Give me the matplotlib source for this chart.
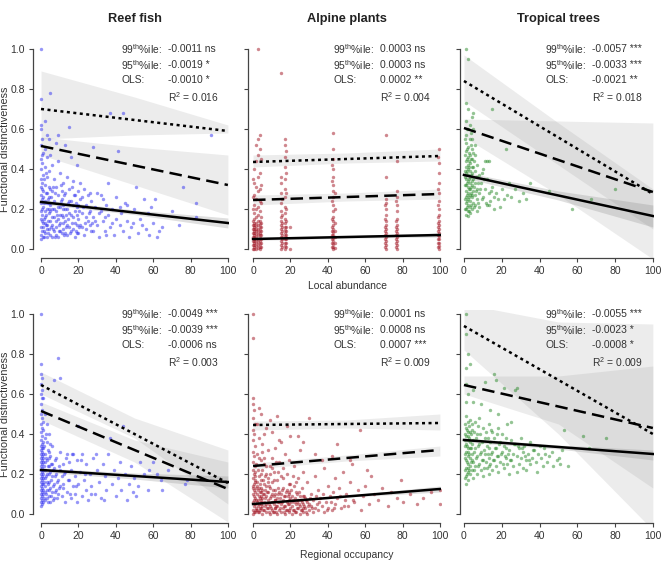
import numpy as np
import matplotlib.pyplot as plt

plt.rcParams['font.family'] = ['Liberation Sans', 'DejaVu Sans']
plt.rcParams['mathtext.fontset'] = 'custom'
plt.rcParams['mathtext.rm'] = 'Liberation Sans'
plt.rcParams['mathtext.it'] = 'Liberation Sans:italic'

# ---- data ----
titles = ['Reef fish', 'Alpine plants', 'Tropical trees']
stat_names = [r'99$^{\rm th}$%ile:', r'95$^{\rm th}$%ile:', 'OLS:']

# slopes / significance text, per panel (top row = local abundance, bottom = regional occupancy)
stats_reef_local = ['-0.0011 ns', '-0.0019 *', '-0.0010 *', '0.016']
stats_alp_local = ['0.0003 ns', '0.0003 ns', '0.0002 **', '0.004']
stats_trop_local = ['-0.0057 ***', '-0.0033 ***', '-0.0021 **', '0.018']
stats_reef_reg = ['-0.0049 ***', '-0.0039 ***', '-0.0006 ns', '0.003']
stats_alp_reg = ['0.0001 ns', '0.0008 ns', '0.0007 ***', '0.009']
stats_trop_reg = ['-0.0055 ***', '-0.0023 *', '-0.0008 *', '0.009']

line_x = [0, 100]
band_x = [0, 50, 100]

# fitted lines (value at x=0 and x=100) and confidence bands (lower/upper at 0, 50, 100)
reef_local_ols = [0.235, 0.13]
reef_local_ols_lo = [0.225, 0.172, 0.105]
reef_local_ols_hi = [0.247, 0.195, 0.155]
reef_local_q95 = [0.515, 0.32]
reef_local_q95_lo = [0.47, 0.32, 0.17]
reef_local_q95_hi = [0.56, 0.51, 0.47]
reef_local_q99 = [0.70, 0.59]
reef_local_q99_lo = [0.55, 0.57, 0.58]
reef_local_q99_hi = [0.89, 0.76, 0.62]

alp_local_ols = [0.05, 0.07]
alp_local_ols_lo = [0.043, 0.054, 0.06]
alp_local_ols_hi = [0.057, 0.066, 0.08]
alp_local_q95 = [0.245, 0.275]
alp_local_q95_lo = [0.22, 0.24, 0.25]
alp_local_q95_hi = [0.27, 0.28, 0.30]
alp_local_q99 = [0.435, 0.465]
alp_local_q99_lo = [0.41, 0.43, 0.44]
alp_local_q99_hi = [0.47, 0.48, 0.50]

trop_local_ols = [0.37, 0.165]
trop_local_ols_lo = [0.355, 0.245, 0.11]
trop_local_ols_hi = [0.385, 0.29, 0.22]
trop_local_q95 = [0.605, 0.285]
trop_local_q95_lo = [0.56, 0.27, -0.05]
trop_local_q95_hi = [0.65, 0.64, 0.63]
trop_local_q99 = [0.84, 0.275]
trop_local_q99_lo = [0.74, 0.42, 0.10]
trop_local_q99_hi = [0.97, 0.63, 0.30]

reef_reg_ols = [0.22, 0.16]
reef_reg_ols_lo = [0.21, 0.175, 0.13]
reef_reg_ols_hi = [0.23, 0.205, 0.19]
reef_reg_q95 = [0.515, 0.125]
reef_reg_q95_lo = [0.47, 0.26, -0.04]
reef_reg_q95_hi = [0.56, 0.37, 0.26]
reef_reg_q99 = [0.645, 0.155]
reef_reg_q99_lo = [0.60, 0.38, 0.05]
reef_reg_q99_hi = [0.71, 0.48, 0.32]

alp_reg_ols = [0.05, 0.125]
alp_reg_ols_lo = [0.045, 0.084, 0.11]
alp_reg_ols_hi = [0.056, 0.093, 0.14]
alp_reg_q95 = [0.24, 0.32]
alp_reg_q95_lo = [0.225, 0.265, 0.29]
alp_reg_q95_hi = [0.255, 0.295, 0.34]
alp_reg_q99 = [0.445, 0.455]
alp_reg_q99_lo = [0.42, 0.43, 0.42]
alp_reg_q99_hi = [0.465, 0.47, 0.50]

trop_reg_ols = [0.37, 0.30]
trop_reg_ols_lo = [0.36, 0.325, 0.27]
trop_reg_ols_hi = [0.38, 0.345, 0.32]
trop_reg_q95 = [0.645, 0.43]
trop_reg_q95_lo = [0.60, 0.45, 0.13]
trop_reg_q95_hi = [0.69, 0.69, 0.74]
trop_reg_q99 = [0.94, 0.40]
trop_reg_q99_lo = [0.82, 0.40, -0.08]
trop_reg_q99_hi = [1.05, 0.96, 0.95]

# species points (x, y)
reef_local_pts = [
    (0, 1.0), (0, 0.75), (0, 0.62), (0, 0.6), (0.5, 0.55), (0, 0.52), (1, 0.48), (0, 0.45), (0.5, 0.43),
    (0, 0.4), (1, 0.37), (0, 0.35), (0.5, 0.33), (0, 0.31), (1, 0.29), (0, 0.27), (0.5, 0.25), (0, 0.23),
    (1, 0.21), (0, 0.19), (0.5, 0.17), (0, 0.15), (1, 0.13), (0, 0.11), (0.5, 0.09), (0, 0.07), (1, 0.06),
    (0, 0.05), (2, 0.64), (3, 0.57), (2, 0.5), (3, 0.46), (2, 0.41), (3, 0.36), (2, 0.32), (3, 0.28),
    (2, 0.24), (3, 0.2), (2, 0.16), (3, 0.12), (2, 0.08), (3, 0.06), (5, 0.78), (4, 0.55), (5, 0.47),
    (4, 0.39), (5, 0.3), (4, 0.26), (5, 0.22), (4, 0.18), (5, 0.14), (4, 0.1), (5, 0.07), (6, 0.42),
    (7, 0.35), (6, 0.29), (7, 0.24), (6, 0.2), (7, 0.16), (6, 0.12), (7, 0.09), (6, 0.06), (8, 0.53),
    (8, 0.31), (8, 0.19), (8, 0.11), (9, 0.57), (9, 0.44), (9, 0.27), (9, 0.15), (9, 0.06), (10, 0.38),
    (11, 0.25), (10, 0.21), (11, 0.17), (10, 0.13), (11, 0.08), (12, 0.33), (12, 0.22), (12, 0.1),
    (13, 0.52), (13, 0.28), (13, 0.14), (14, 0.36), (14, 0.2), (14, 0.07), (15, 0.61), (15, 0.3),
    (15, 0.18), (15, 0.11), (16, 0.46), (16, 0.24), (16, 0.09), (17, 0.34), (17, 0.16), (18, 0.27),
    (18, 0.13), (18, 0.06), (19, 0.42), (19, 0.21), (20, 0.29), (20, 0.15), (20, 0.08), (21, 0.25),
    (22, 0.18), (22, 0.11), (23, 0.3), (23, 0.07), (24, 0.22), (25, 0.14), (25, 0.27), (26, 0.19),
    (27, 0.09), (27, 0.24), (28, 0.51), (28, 0.16), (29, 0.21), (30, 0.12), (30, 0.28), (31, 0.06),
    (32, 0.19), (33, 0.25), (33, 0.14), (34, 0.09), (35, 0.22), (36, 0.33), (36, 0.17), (37, 0.68),
    (37, 0.11), (38, 0.2), (39, 0.07), (40, 0.26), (40, 0.15), (41, 0.49), (42, 0.12), (43, 0.18),
    (44, 0.68), (44, 0.09), (45, 0.23), (46, 0.14), (47, 0.06), (48, 0.11), (50, 0.2), (51, 0.31),
    (52, 0.08), (53, 0.15), (55, 0.25), (56, 0.1), (57, 0.18), (58, 0.07), (60, 0.13), (61, 0.25),
    (62, 0.06), (63, 0.09), (65, 0.11), (70, 0.19), (74, 0.12), (76, 0.31), (83, 0.23), (83, 0.16),
    (91, 0.57), (1, 0.26), (2, 0.19), (3, 0.23), (1, 0.11), (2, 0.13), (3, 0.1), (4, 0.31), (4, 0.23),
    (5, 0.19), (6, 0.16), (7, 0.2), (8, 0.14), (8, 0.07), (9, 0.21), (10, 0.17), (10, 0.09), (11, 0.29),
    (12, 0.16), (13, 0.08), (13, 0.2), (14, 0.12), (15, 0.24), (16, 0.17), (17, 0.1), (17, 0.22),
    (18, 0.19), (19, 0.12), (19, 0.08), (20, 0.22), (21, 0.12), (21, 0.33), (22, 0.26), (24, 0.1),
    (24, 0.16), (26, 0.12), (26, 0.28), (28, 0.09), (29, 0.14), (31, 0.18), (32, 0.27), (34, 0.16),
    (35, 0.07), (38, 0.13), (42, 0.21), (46, 0.22), (49, 0.13), (54, 0.12), (59, 0.21),
    (0.5, 0.2), (1.5, 0.23), (2.5, 0.17), (3.5, 0.25), (0.5, 0.3), (1.5, 0.15), (2.5, 0.28), (3.5, 0.14),
    (4.5, 0.2), (5.5, 0.26), (6.5, 0.1), (7.5, 0.28), (8.5, 0.17), (9.5, 0.09), (10.5, 0.24), (11.5, 0.13),
    (12.5, 0.27), (13.5, 0.17), (14.5, 0.23), (15.5, 0.08), (16.5, 0.13), (17.5, 0.27), (18.5, 0.09),
    (19.5, 0.17), (20.5, 0.11), (22.5, 0.21), (23.5, 0.13), (25.5, 0.18), (27.5, 0.13), (1.5, 0.35),
    (2.5, 0.38), (0.5, 0.47), (1.5, 0.06), (3.5, 0.08), (5.5, 0.11), (7.5, 0.06), (9.5, 0.12), (11.5, 0.2),
    (13.5, 0.11), (6.5, 0.31), (10.5, 0.32), (12.5, 0.07), (14.5, 0.15), (16.5, 0.31), (18.5, 0.23),
    (20.5, 0.19), (0.5, 0.14), (1.5, 0.09), (2.5, 0.12),
]

# alpine local abundance takes a few discrete values: (x, list of y)
alp_local_cols = [
    (0.0, [0.0, 0.02, 0.04, 0.06, 0.08, 0.1, 0.12, 0.14, 0.2, 0.26, 0.35]),
    (0.5, [0.0, 0.01, 0.02, 0.03, 0.04, 0.05, 0.06, 0.07, 0.08, 0.09, 0.1, 0.11, 0.12, 0.13, 0.15, 0.18, 0.22, 0.27, 0.33, 0.4]),
    (1.5, [0.0, 0.015, 0.03, 0.045, 0.06, 0.075, 0.09, 0.1, 0.115, 0.13, 0.16, 0.2, 0.25, 0.31, 0.44, 0.52]),
    (2.5, [0.005, 0.02, 0.035, 0.05, 0.07, 0.085, 0.1, 0.12, 0.14, 0.17, 0.21, 0.29, 0.36, 0.47, 0.55, 1.0]),
    (3.5, [0.0, 0.01, 0.025, 0.04, 0.055, 0.07, 0.08, 0.095, 0.11, 0.125, 0.14, 0.19, 0.24, 0.3, 0.38, 0.5, 0.57]),
    (4.2, [0.01, 0.03, 0.05, 0.07, 0.09, 0.11, 0.13, 0.16, 0.23, 0.32, 0.45]),
    (15, [0.0, 0.02, 0.04, 0.06, 0.08, 0.1, 0.12, 0.14, 0.16, 0.19, 0.23, 0.28, 0.33, 0.36, 0.88]),
    (15.7, [0.01, 0.03, 0.05, 0.07, 0.09, 0.11, 0.13, 0.17, 0.25]),
    (17, [0.0, 0.015, 0.03, 0.05, 0.065, 0.08, 0.095, 0.11, 0.13, 0.15, 0.18, 0.21, 0.26, 0.3, 0.35, 0.41, 0.46, 0.52, 0.55]),
    (17.7, [0.01, 0.03, 0.05, 0.07, 0.09, 0.11, 0.14, 0.2, 0.28, 0.38, 0.49]),
    (20, [0.0, 0.11]),
    (42.4, [0.01, 0.03, 0.05, 0.07, 0.09, 0.11, 0.15, 0.24, 0.34, 0.42]),
    (43, [0.0, 0.01, 0.025, 0.04, 0.055, 0.07, 0.085, 0.1, 0.12, 0.14, 0.16, 0.19, 0.22, 0.26, 0.29, 0.32, 0.36, 0.4, 0.45, 0.5, 0.58]),
    (43.6, [0.005, 0.03, 0.06, 0.09, 0.13, 0.2, 0.28]),
    (70.4, [0.01, 0.03, 0.05, 0.07, 0.09, 0.11, 0.15, 0.22]),
    (71, [0.0, 0.02, 0.04, 0.06, 0.08, 0.1, 0.12, 0.14, 0.17, 0.2, 0.23, 0.25, 0.36, 0.57]),
    (76.4, [0.01, 0.03, 0.05, 0.07, 0.09, 0.11, 0.14, 0.24]),
    (77, [0.0, 0.02, 0.04, 0.06, 0.08, 0.1, 0.12, 0.15, 0.19, 0.22, 0.26, 0.29, 0.44]),
    (99.0, [0.01, 0.03, 0.05, 0.07, 0.09, 0.11, 0.13, 0.16, 0.22, 0.3, 0.46]),
    (99.6, [0.0, 0.015, 0.03, 0.05, 0.065, 0.08, 0.1, 0.12, 0.14, 0.17, 0.2, 0.24, 0.28, 0.33, 0.38, 0.43, 0.5]),
]

trop_local_pts = [
    (1, 1.0), (2, 0.95), (1, 0.73), (2, 0.7), (1, 0.64), (2, 0.6), (1, 0.57), (3, 0.55), (1, 0.53),
    (2, 0.51), (1, 0.49), (3, 0.47), (2, 0.46), (1, 0.44), (3, 0.43), (2, 0.42), (1, 0.41), (2, 0.4),
    (3, 0.39), (1, 0.38), (2, 0.37), (3, 0.36), (1, 0.35), (2, 0.34), (3, 0.33), (1, 0.32), (2, 0.31),
    (3, 0.3), (1, 0.29), (2, 0.28), (3, 0.27), (1, 0.26), (2, 0.25), (3, 0.24), (1, 0.23), (2, 0.22),
    (3, 0.21), (1, 0.2), (2, 0.19), (3, 0.18), (1, 0.17), (2, 0.165), (4, 0.5), (5, 0.6), (4, 0.45),
    (5, 0.41), (4, 0.38), (5, 0.35), (4, 0.32), (5, 0.29), (4, 0.26), (5, 0.23), (4, 0.2), (6, 0.47),
    (6, 0.39), (6, 0.33), (6, 0.27), (6, 0.22), (7, 0.42), (7, 0.36), (7, 0.3), (7, 0.25), (7, 0.19),
    (8, 0.37), (8, 0.28), (8, 0.21), (4, 0.55), (5, 0.48), (6, 0.52), (3, 0.62), (4, 0.66), (5, 0.68),
    (9, 0.33), (10, 0.4), (10, 0.26), (11, 0.44), (11, 0.3), (12, 0.22), (12, 0.35), (13, 0.28),
    (13, 0.44), (14, 0.24), (15, 0.7), (15, 0.31), (16, 0.26), (16, 0.2), (17, 0.28), (18, 0.25),
    (19, 0.21), (20, 0.3), (21, 0.25), (22, 0.5), (23, 0.27), (24, 0.33), (25, 0.26), (27, 0.3),
    (29, 0.24), (31, 0.28), (33, 0.25), (35, 0.33), (45, 0.29), (57, 0.2), (67, 0.25), (80, 0.3),
    (96, 0.3), (12, 0.44), (13, 0.22), (1.5, 0.45), (2.5, 0.35), (1.5, 0.27), (2.5, 0.41), (1.5, 0.21),
    (2.5, 0.3), (0.5, 0.39), (0.5, 0.32), (0.5, 0.25), (3.5, 0.37), (3.5, 0.28), (3.5, 0.45),
    (0.5, 0.47), (1.5, 0.5), (2.5, 0.48), (3.5, 0.52), (0.5, 0.2), (1.5, 0.24), (2.5, 0.19), (3.5, 0.22),
    (4.5, 0.34), (4.5, 0.41), (4.5, 0.27), (5.5, 0.31), (5.5, 0.44), (5.5, 0.21), (6.5, 0.36), (6.5, 0.29),
    (7.5, 0.33), (7.5, 0.23), (8.5, 0.3), (9.5, 0.25), (10.5, 0.35), (11.5, 0.23), (9.5, 0.38), (14.5, 0.29),
    (0.5, 0.36), (1.5, 0.33), (2.5, 0.26), (3.5, 0.31), (1.5, 0.39), (2.5, 0.44), (0.5, 0.55), (1.5, 0.6),
    (3.5, 0.58),
]

reef_reg_pts = [
    (0, 1.0), (0, 0.75), (0, 0.7), (0.4, 0.68), (0, 0.65), (0.4, 0.62), (0, 0.6), (0.4, 0.58), (0, 0.55),
    (0.4, 0.52), (0, 0.5), (0.4, 0.48), (0, 0.45), (0.4, 0.43), (0, 0.41), (0.4, 0.39), (0, 0.37),
    (0.4, 0.35), (0, 0.34), (0.4, 0.33), (0, 0.32), (0.4, 0.31), (0, 0.3), (0.4, 0.29), (0, 0.28),
    (0.4, 0.27), (0, 0.26), (0.4, 0.25), (0, 0.24), (0.4, 0.23), (0, 0.22), (0.4, 0.21), (0, 0.2),
    (0.4, 0.19), (0, 0.18), (0.4, 0.17), (0, 0.16), (0.4, 0.15), (0, 0.14), (0.4, 0.13), (0, 0.12),
    (0.4, 0.11), (0, 0.1), (0.4, 0.09), (0, 0.08), (0.4, 0.07), (0, 0.06), (0.4, 0.05), (0, 0.04),
    (1, 0.1), (1, 0.18), (1, 0.26), (1, 0.33), (1, 0.42), (1, 0.58), (2, 0.07), (2, 0.14), (2, 0.22),
    (2, 0.3), (2, 0.38), (2, 0.5), (3, 0.12), (3, 0.2), (3, 0.27), (3, 0.36), (3, 0.45), (4, 0.09),
    (4, 0.16), (4, 0.24), (4, 0.31), (4, 0.4), (5, 0.06), (5, 0.13), (5, 0.21), (5, 0.29), (5, 0.35),
    (6, 0.11), (6, 0.19), (6, 0.25), (6, 0.34), (7, 0.08), (7, 0.15), (7, 0.23), (7, 0.67), (8, 0.12),
    (8, 0.2), (8, 0.28), (9, 0.78), (9, 0.1), (9, 0.17), (10, 0.68), (10, 0.14), (10, 0.22), (10, 0.31),
    (11, 0.09), (11, 0.19), (12, 0.25), (12, 0.13), (13, 0.06), (13, 0.21), (14, 0.3), (14, 0.11),
    (15, 0.17), (15, 0.26), (16, 0.08), (16, 0.22), (17, 0.14), (17, 0.3), (18, 0.1), (18, 0.19),
    (19, 0.27), (19, 0.06), (20, 0.15), (20, 0.44), (21, 0.21), (22, 0.09), (22, 0.3), (23, 0.17),
    (24, 0.12), (24, 0.25), (25, 0.07), (26, 0.2), (27, 0.14), (28, 0.28), (29, 0.1), (30, 0.22),
    (31, 0.16), (32, 0.08), (33, 0.25), (34, 0.19), (35, 0.12), (36, 0.3), (37, 0.38), (38, 0.15),
    (39, 0.22), (40, 0.09), (41, 0.18), (42, 0.26), (43, 0.12), (44, 0.44), (45, 0.2), (46, 0.07),
    (47, 0.15), (48, 0.24), (49, 0.11), (50, 0.18), (51, 0.09), (52, 0.14), (53, 0.26), (55, 0.2),
    (57, 0.12), (58, 0.22), (60, 0.26), (62, 0.2), (64, 0.17), (65, 0.12), (68, 0.22), (77, 0.15),
    (78, 0.17), (1, 0.15), (2, 0.26), (3, 0.08), (1, 0.22), (2, 0.18), (1, 0.3), (3, 0.16), (2, 0.11),
    (0.8, 0.06), (0.8, 0.12), (0.8, 0.2), (0.8, 0.28), (0.8, 0.36), (0.8, 0.46), (1.5, 0.08), (1.5, 0.16),
    (1.5, 0.24), (1.5, 0.34), (2.5, 0.1), (2.5, 0.19), (2.5, 0.28), (2.5, 0.4), (3.5, 0.06), (3.5, 0.15),
    (3.5, 0.24), (3.5, 0.32), (4.5, 0.12), (4.5, 0.2), (4.5, 0.28), (5.5, 0.09), (5.5, 0.17), (5.5, 0.25),
    (6.5, 0.07), (6.5, 0.14), (6.5, 0.22), (7.5, 0.11), (7.5, 0.19), (7.5, 0.27), (8.5, 0.08), (8.5, 0.16),
    (9.5, 0.13), (9.5, 0.24), (11.5, 0.15), (12.5, 0.2), (13.5, 0.28), (14.5, 0.17), (15.5, 0.1),
    (16.5, 0.3), (18.5, 0.14), (21.5, 0.27), (23.5, 0.2), (26.5, 0.1), (29.5, 0.3), (33.5, 0.07),
]

alp_reg_pts = [
    (0, 1.0), (0, 0.88), (0, 0.58), (0, 0.55), (0.5, 0.52), (0, 0.48), (1, 0.45), (0, 0.42), (0.5, 0.4),
    (0, 0.37), (1, 0.34), (0, 0.31), (0.5, 0.29), (0, 0.26), (1, 0.24), (0, 0.22), (0.5, 0.2), (0, 0.18),
    (1, 0.16), (0, 0.14), (0.5, 0.12), (0, 0.1), (1, 0.08), (0, 0.06), (0.5, 0.04), (0, 0.02), (1, 0.01),
    (0, 0.0), (1, 0.11), (1, 0.05), (0.5, 0.07), (0.5, 0.15), (1, 0.21), (2, 0.02), (2, 0.06), (2, 0.1),
    (2, 0.14), (2, 0.3), (2, 0.45), (3, 0.01), (3, 0.05), (3, 0.09), (3, 0.13), (3, 0.19), (3, 0.38),
    (4, 0.03), (4, 0.07), (4, 0.11), (4, 0.17), (4, 0.27), (4, 0.5), (5, 0.0), (5, 0.04), (5, 0.08),
    (5, 0.12), (5, 0.22), (5, 0.35), (6, 0.02), (6, 0.06), (6, 0.1), (6, 0.15), (6, 0.25), (7, 0.01),
    (7, 0.05), (7, 0.09), (7, 0.14), (7, 0.2), (7, 0.43), (8, 0.03), (8, 0.07), (8, 0.11), (8, 0.18),
    (8, 0.32), (9, 0.0), (9, 0.04), (9, 0.08), (9, 0.13), (9, 0.24), (10, 0.02), (10, 0.06), (10, 0.1),
    (10, 0.16), (10, 0.28), (10, 0.41), (11, 0.01), (11, 0.05), (11, 0.09), (11, 0.21), (12, 0.03),
    (12, 0.07), (12, 0.12), (12, 0.33), (13, 0.0), (13, 0.04), (13, 0.08), (13, 0.17), (13, 0.49),
    (14, 0.02), (14, 0.06), (14, 0.11), (14, 0.26), (15, 0.01), (15, 0.05), (15, 0.1), (15, 0.19),
    (15, 0.36), (16, 0.03), (16, 0.07), (16, 0.13), (16, 0.23), (17, 0.0), (17, 0.04), (17, 0.09),
    (17, 0.3), (18, 0.02), (18, 0.06), (18, 0.12), (18, 0.2), (19, 0.01), (19, 0.05), (19, 0.1),
    (19, 0.27), (20, 0.03), (20, 0.08), (20, 0.15), (20, 0.39), (21, 0.0), (21, 0.04), (21, 0.09),
    (22, 0.02), (22, 0.06), (22, 0.14), (22, 0.24), (23, 0.01), (23, 0.05), (23, 0.11), (24, 0.03),
    (24, 0.07), (24, 0.18), (25, 0.0), (25, 0.04), (25, 0.09), (25, 0.32), (26, 0.02), (26, 0.06),
    (26, 0.13), (27, 0.01), (27, 0.05), (27, 0.21), (28, 0.03), (28, 0.08), (29, 0.0), (29, 0.06),
    (29, 0.16), (30, 0.02), (30, 0.05), (30, 0.48), (31, 0.04), (31, 0.1), (32, 0.01), (32, 0.07),
    (33, 0.03), (33, 0.19), (34, 0.05), (35, 0.02), (35, 0.12), (36, 0.08), (37, 0.04), (37, 0.27),
    (38, 0.01), (39, 0.06), (40, 0.03), (40, 0.14), (41, 0.09), (42, 0.02), (43, 0.11), (44, 0.05),
    (45, 0.35), (45, 0.08), (46, 0.13), (47, 0.03), (48, 0.21), (49, 0.07), (50, 0.1), (51, 0.04),
    (52, 0.16), (53, 0.25), (54, 0.06), (56, 0.12), (57, 0.42), (58, 0.02), (59, 0.09), (60, 0.14),
    (62, 0.05), (63, 0.19), (65, 0.1), (67, 0.07), (69, 0.13), (72, 0.04), (74, 0.11), (77, 0.08),
    (79, 0.17), (80, 0.06), (84, 0.1), (88, 0.05), (91, 0.08), (95, 0.11), (100, 0.05), (100, 0.12),
    (3, 0.53), (6, 0.4), (9, 0.47), (14, 0.37), (18, 0.44), (24, 0.39), (27, 0.36), (33, 0.3),
    (42, 0.29), (52, 0.27), (61, 0.22), (38, 0.23), (44, 0.18),
    (1.5, 0.03), (2.5, 0.07), (3.5, 0.02), (4.5, 0.09), (1.5, 0.13), (2.5, 0.01), (3.5, 0.11), (4.5, 0.05),
    (6.5, 0.04), (8.5, 0.01), (11.5, 0.03), (13.5, 0.06), (16.5, 0.01), (19.5, 0.07), (23.5, 0.03),
    (0.5, 0.01), (1.5, 0.02), (2.5, 0.04), (3.5, 0.03), (4.5, 0.06), (5.5, 0.02), (6.5, 0.08), (7.5, 0.03),
    (8.5, 0.05), (9.5, 0.09), (10.5, 0.01), (11.5, 0.07), (12.5, 0.04), (13.5, 0.1), (14.5, 0.03),
    (15.5, 0.06), (16.5, 0.09), (17.5, 0.02), (18.5, 0.05), (19.5, 0.11), (20.5, 0.06), (21.5, 0.02),
    (22.5, 0.08), (23.5, 0.1), (24.5, 0.05), (25.5, 0.07), (26.5, 0.03), (27.5, 0.09), (28.5, 0.01),
    (29.5, 0.04), (0.5, 0.09), (1.5, 0.07), (2.5, 0.12), (3.5, 0.08), (4.5, 0.13), (5.5, 0.1),
    (6.5, 0.12), (7.5, 0.11), (8.5, 0.14), (9.5, 0.03), (10.5, 0.12), (11.5, 0.1), (12.5, 0.01),
    (13.5, 0.13), (14.5, 0.08), (15.5, 0.12), (16.5, 0.04), (17.5, 0.11), (18.5, 0.09), (19.5, 0.02),
    (20.5, 0.12), (21.5, 0.07), (22.5, 0.01), (23.5, 0.06), (24.5, 0.11), (25.5, 0.02), (26.5, 0.09),
    (27.5, 0.04), (28.5, 0.07), (30.5, 0.08), (0.2, 0.13), (0.8, 0.17), (1.2, 0.19), (1.8, 0.25),
    (2.2, 0.16), (2.8, 0.22), (3.2, 0.28), (3.8, 0.15), (4.2, 0.2), (4.8, 0.31), (5.2, 0.17), (5.8, 0.28),
    (6.2, 0.19), (7.2, 0.24), (8.2, 0.16), (9.2, 0.2), (10.2, 0.23), (11.2, 0.17), (12.2, 0.26),
    (13.2, 0.21), (16.2, 0.18), (19.2, 0.15), (21.2, 0.19), (23.2, 0.16), (31.5, 0.03), (33.5, 0.09),
    (35.5, 0.06), (37.5, 0.1), (39.5, 0.02), (41.5, 0.06), (43.5, 0.03), (46.5, 0.09), (48.5, 0.04),
    (53.5, 0.07),
]

trop_reg_pts = [
    (1, 1.0), (1, 0.9), (2, 0.8), (3, 0.75), (1, 0.73), (1, 0.65), (2, 0.6), (1, 0.56), (1, 0.49),
    (2, 0.46), (1, 0.43), (2, 0.41), (1, 0.39), (2, 0.37), (1, 0.35), (2, 0.33), (1, 0.31), (2, 0.29),
    (1, 0.27), (2, 0.25), (1, 0.23), (2, 0.21), (1, 0.19), (2, 0.17), (1, 0.15), (3, 0.47), (3, 0.36),
    (3, 0.28), (3, 0.2), (0.5, 0.45), (0.5, 0.4), (0.5, 0.34), (0.5, 0.28), (0.5, 0.22), (0.5, 0.18),
    (4, 0.42), (4, 0.3), (4, 0.22), (5, 0.37), (5, 0.26), (5, 0.18), (6, 0.46), (6, 0.33), (6, 0.24),
    (7, 0.4), (7, 0.29), (7, 0.2), (8, 0.48), (8, 0.35), (8, 0.25), (9, 0.31), (9, 0.22), (10, 0.43),
    (10, 0.27), (10, 0.19), (11, 0.38), (11, 0.3), (12, 0.34), (12, 0.23), (13, 0.45), (13, 0.28),
    (13, 0.2), (14, 0.36), (14, 0.25), (15, 0.41), (15, 0.31), (15, 0.22), (16, 0.7), (16, 0.38),
    (16, 0.27), (17, 0.33), (17, 0.24), (18, 0.43), (18, 0.29), (18, 0.21), (19, 0.36), (19, 0.26),
    (20, 0.4), (20, 0.31), (21, 0.23), (21, 0.34), (22, 0.28), (22, 0.38), (23, 0.25), (23, 0.45),
    (24, 0.32), (24, 0.2), (25, 0.37), (25, 0.27), (26, 0.3), (26, 0.24), (27, 0.35), (27, 0.62),
    (28, 0.29), (28, 0.21), (29, 0.33), (29, 0.25), (30, 0.38), (30, 0.28), (31, 0.23), (31, 0.31),
    (32, 0.34), (33, 0.27), (33, 0.22), (34, 0.3), (35, 0.36), (35, 0.25), (36, 0.28), (37, 0.32),
    (38, 0.26), (39, 0.3), (40, 0.34), (41, 0.28), (42, 0.24), (43, 0.3), (44, 0.26), (45, 0.29),
    (47, 0.24), (49, 0.27), (51, 0.25), (52, 0.32), (53, 0.42), (55, 0.24), (63, 0.39), (66, 0.33),
    (75, 0.38), (5, 0.62), (11, 0.66), (17, 0.67), (21, 0.63), (28, 0.63), (5, 0.56), (9, 0.55),
    (14, 0.52), (18, 0.5), (25, 0.46), (2, 0.39), (2, 0.31), (2, 0.23), (3, 0.41), (3, 0.33), (3, 0.24),
    (0.5, 0.3), (0.5, 0.37), (1.5, 0.42), (1.5, 0.34), (1.5, 0.26), (1.5, 0.2), (2.5, 0.44), (2.5, 0.38),
    (2.5, 0.3), (2.5, 0.22), (3.5, 0.4), (3.5, 0.33), (3.5, 0.26), (4.5, 0.35), (4.5, 0.45), (4.5, 0.27),
    (5.5, 0.41), (5.5, 0.31), (5.5, 0.22), (6.5, 0.38), (6.5, 0.28), (7.5, 0.44), (7.5, 0.34), (7.5, 0.24),
    (8.5, 0.3), (8.5, 0.4), (9.5, 0.36), (9.5, 0.27), (10.5, 0.32), (10.5, 0.23), (11.5, 0.41),
    (11.5, 0.26), (12.5, 0.3), (12.5, 0.38), (13.5, 0.33), (13.5, 0.24), (14.5, 0.42), (14.5, 0.3),
    (15.5, 0.27), (16.5, 0.33), (17.5, 0.4), (17.5, 0.29), (18.5, 0.35), (19.5, 0.3), (20.5, 0.25),
    (21.5, 0.29), (22.5, 0.33), (23.5, 0.3), (24.5, 0.27), (26.5, 0.35), (28.5, 0.34), (30.5, 0.33),
    (32.5, 0.29), (34.5, 0.27), (36.5, 0.32), (38.5, 0.21), (42.5, 0.33), (46.5, 0.31), (50.5, 0.28),
]

pts_color = ['#2f2ff0', '#a0101f', '#2a8a2a']

# ---- layout (figure fractions) ----
col_left = [33 / 665, 248 / 665, 460 / 665]
col_width = [196 / 665, 193 / 665, 194 / 665]
col_xmin = [-4.3, -2.7, -2.1]
row_bottom = [1 - 258 / 574, 1 - 523 / 574]
row_height = 0.3711

fig = plt.figure(figsize=(6.65, 5.74), dpi=100)
txt_col = '#333333'


def panel(r, c, pts, stats, fits):
    ax = fig.add_axes([col_left[c], row_bottom[r], col_width[c], row_height])
    ax.set_xlim(col_xmin[c], 100.6)
    ax.set_ylim(-0.045, 1.02)

    # confidence bands
    for (line, lo, hi), shade in zip(fits, [0.16, 0.16, 0.28]):
        ax.fill_between(band_x, lo, hi, color='0.55', alpha=shade, lw=0, zorder=1)

    xs = [p[0] for p in pts]
    ys = [p[1] for p in pts]
    ax.scatter(xs, ys, s=6, color=pts_color[c], alpha=0.5, lw=0, zorder=2)

    styles = [(0, (1.2, 1.4)), (0, (5, 2.5)), '-']
    for (line, lo, hi), ls in zip(fits, styles):
        ax.plot(line_x, line, color='black', lw=1.8, ls=ls, zorder=3)

    for i in range(3):
        y = [1.0, 0.92, 0.845][i]
        ax.text(43, y, stat_names[i], fontsize=7.4, color=txt_col, va='center')
        ax.text(68, y, stats[i], fontsize=7.4, color=txt_col, va='center')
    ax.text(68, 0.76, r'R$^2$ = ' + stats[3], fontsize=7.4, color=txt_col, va='center')

    for s in ['top', 'right']:
        ax.spines[s].set_visible(False)
    ax.spines['left'].set_bounds(0, 1)
    ax.spines['bottom'].set_bounds(0, 100)
    for s in ['left', 'bottom']:
        ax.spines[s].set_color('#444444')
        ax.spines[s].set_linewidth(0.9)
    ax.set_xticks([0, 20, 40, 60, 80, 100])
    ax.set_yticks([0, 0.2, 0.4, 0.6, 0.8, 1.0])
    ax.tick_params(length=3, width=0.8, color='#444444', labelsize=7.5, labelcolor=txt_col, pad=3)
    if c == 0:
        ax.set_yticklabels(['0.0', '0.2', '0.4', '0.6', '0.8', '1.0'])
        ax.set_ylabel('Functional distinctiveness', fontsize=7.8, color=txt_col)
        ax.yaxis.set_label_coords(-0.118, 0.512)
    else:
        ax.set_yticklabels([])
    return ax


def pts_from_cols(cols):
    out = []
    for x, ys in cols:
        for y in ys:
            out.append((x, y))
    return out


panel(0, 0, reef_local_pts, stats_reef_local,
      [(reef_local_q99, reef_local_q99_lo, reef_local_q99_hi),
       (reef_local_q95, reef_local_q95_lo, reef_local_q95_hi),
       (reef_local_ols, reef_local_ols_lo, reef_local_ols_hi)])
panel(0, 1, pts_from_cols(alp_local_cols), stats_alp_local,
      [(alp_local_q99, alp_local_q99_lo, alp_local_q99_hi),
       (alp_local_q95, alp_local_q95_lo, alp_local_q95_hi),
       (alp_local_ols, alp_local_ols_lo, alp_local_ols_hi)])
panel(0, 2, trop_local_pts, stats_trop_local,
      [(trop_local_q99, trop_local_q99_lo, trop_local_q99_hi),
       (trop_local_q95, trop_local_q95_lo, trop_local_q95_hi),
       (trop_local_ols, trop_local_ols_lo, trop_local_ols_hi)])
panel(1, 0, reef_reg_pts, stats_reef_reg,
      [(reef_reg_q99, reef_reg_q99_lo, reef_reg_q99_hi),
       (reef_reg_q95, reef_reg_q95_lo, reef_reg_q95_hi),
       (reef_reg_ols, reef_reg_ols_lo, reef_reg_ols_hi)])
panel(1, 1, alp_reg_pts, stats_alp_reg,
      [(alp_reg_q99, alp_reg_q99_lo, alp_reg_q99_hi),
       (alp_reg_q95, alp_reg_q95_lo, alp_reg_q95_hi),
       (alp_reg_ols, alp_reg_ols_lo, alp_reg_ols_hi)])
panel(1, 2, trop_reg_pts, stats_trop_reg,
      [(trop_reg_q99, trop_reg_q99_lo, trop_reg_q99_hi),
       (trop_reg_q95, trop_reg_q95_lo, trop_reg_q95_hi),
       (trop_reg_ols, trop_reg_ols_lo, trop_reg_ols_hi)])

title_x = [134.5, 346.5, 558.5]
for t, x in zip(titles, title_x):
    fig.text(x / 665, 1 - 19 / 574, t, ha='center', va='center', fontsize=9.2,
             fontweight='bold', color='#222222')

fig.text(347 / 665, 1 - 286 / 574, 'Local abundance', ha='center', va='center',
         fontsize=7.5, color=txt_col)
fig.text(347 / 665, 1 - 555 / 574, 'Regional occupancy', ha='center', va='center',
         fontsize=7.5, color=txt_col)

fig.savefig('out.png', dpi=100)
